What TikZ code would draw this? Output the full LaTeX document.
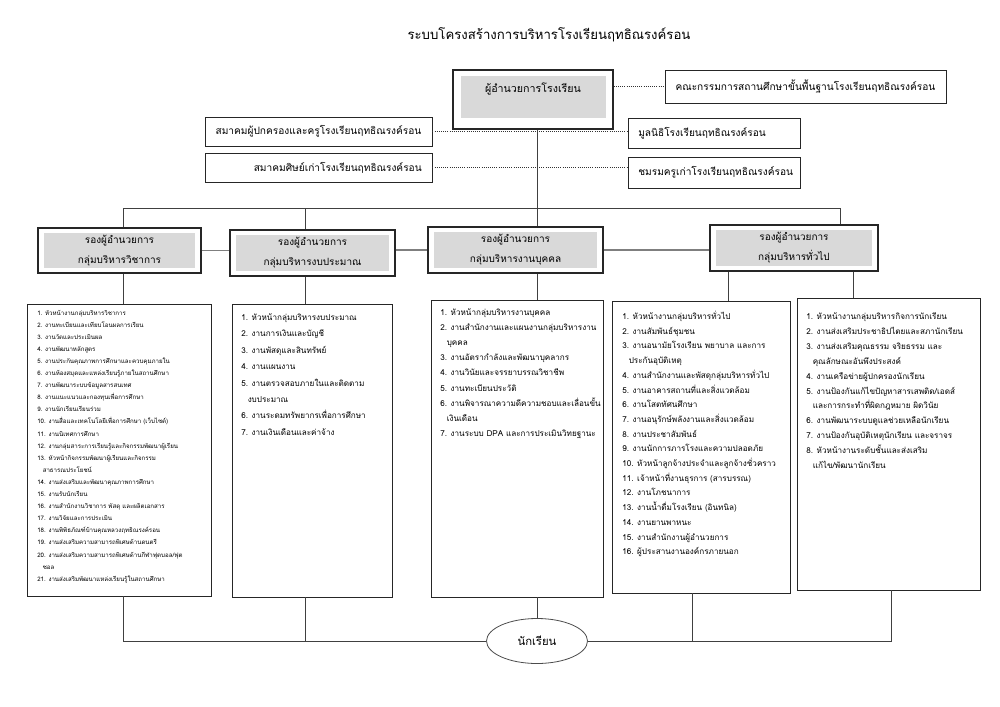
\documentclass[tikz,border=0pt]{standalone}
\usepackage{fontspec}
\newfontfamily\thai[Script=Thai]{Loma}
\usetikzlibrary{shapes.geometric}
\definecolor{boxgray}{HTML}{D9D9D9}
\definecolor{linegray}{HTML}{7F7F7F}
\tikzset{
  box/.style={rectangle, draw=black!85, line width=0.7pt, fill=white, inner sep=0pt},
  vpbox/.style={box, line width=1.1pt},
  grayin/.style={rectangle, fill=boxgray, draw=none, inner sep=0pt},
  toptxt/.style={inner sep=0pt, font={\thai\fontsize{7.6}{9}\selectfont}},
  vptxt/.style={align=center, font={\thai\fontsize{7.5}{15}\selectfont}},
  litemA/.style={anchor=base west, inner sep=0pt, font={\thai\fontsize{4.6}{6}\selectfont}},
  litem/.style={anchor=base west, inner sep=0pt, font={\thai\fontsize{6.1}{8}\selectfont}},
  link/.style={draw=black!75, line width=0.5pt},
  vplink/.style={draw=linegray, line width=1.3pt},
  dotlink/.style={draw=black!80, densely dotted, line width=0.6pt},
}
\begin{document}
\begin{tikzpicture}[x=0.75pt, y=-0.75pt]
\useasboundingbox (0,0) rectangle (1000,707);
\fill[white] (0,0) rectangle (1000,707);

% title
\node[inner sep=0pt, font={\thai\fontsize{9.9}{12}\selectfont}] (title) at (549,35) {ระบบโครงสร้างการบริหารโรงเรียนฤทธิณรงค์รอน};

% director
\node[vpbox, minimum width=120pt, minimum height=44.25pt] (dir) at (533,99.5) {};
\node[grayin, minimum width=108.75pt, minimum height=31.5pt] (dirin) at (533.5,97) {};
\node[inner sep=0pt, font={\thai\fontsize{8}{10}\selectfont}] (dirt) at (533,89) {ผู้อำนวยการโรงเรียน};

% side boxes
\node[box, minimum width=210.75pt, minimum height=24.75pt] (comm) at (805.5,86.5) {};
\node[toptxt] (commt) at (comm.center) {คณะกรรมการสถานศึกษาขั้นพื้นฐานโรงเรียนฤทธิณรงค์รอน};
\node[box, minimum width=170.25pt, minimum height=21.75pt] (par) at (318.5,131.5) {};
\node[toptxt] (part) at (par.center) {สมาคมผู้ปกครองและครูโรงเรียนฤทธิณรงค์รอน};
\node[box, minimum width=129pt, minimum height=22.5pt] (fou) at (714,133) {};
\node[toptxt, anchor=west] (fout) at (638,133) {มูลนิธิโรงเรียนฤทธิณรงค์รอน};
\node[box, minimum width=170.25pt, minimum height=21.75pt] (alu) at (318.5,167.5) {};
\node[toptxt, anchor=east] (alut) at (422,167.5) {สมาคมศิษย์เก่าโรงเรียนฤทธิณรงค์รอน};
\node[box, minimum width=129pt, minimum height=23.25pt] (clu) at (714,172.5) {};
\node[toptxt, anchor=west] (clut) at (638,172.5) {ชมรมครูเก่าโรงเรียนฤทธิณรงค์รอน};

\draw[dotlink] (comm.west -| dir.east) -- (comm.west);
\draw[dotlink] (par.east) -- (par.east -| fou.west);
\draw[dotlink] (alu.east) -- (alu.east -| clu.west);

% vice directors
\node[vpbox, minimum width=122.25pt, minimum height=33.75pt] (vp1) at (119.5,250.5) {};
\node[grayin, vptxt, minimum width=113.25pt, minimum height=26.25pt] (vp1in) at (vp1.center) {รองผู้อำนวยการ\\กลุ่มบริหารวิชาการ};
\node[vpbox, minimum width=123.75pt, minimum height=34.5pt] (vp2) at (312.5,253) {};
\node[grayin, vptxt, minimum width=114.75pt, minimum height=27pt] (vp2in) at (vp2.center) {รองผู้อำนวยการ\\กลุ่มบริหารงบประมาณ};
\node[vpbox, minimum width=131.25pt, minimum height=34.5pt] (vp3) at (515.5,250) {};
\node[grayin, vptxt, minimum width=122.25pt, minimum height=27pt] (vp3in) at (vp3.center) {รองผู้อำนวยการ\\กลุ่มบริหารงานบุคคล};
\node[vpbox, minimum width=126pt, minimum height=34.5pt] (vp4) at (794,248) {};
\node[grayin, vptxt, minimum width=117pt, minimum height=27pt] (vp4in) at (vp4.center) {รองผู้อำนวยการ\\กลุ่มบริหารทั่วไป};

\draw[vplink] (vp1.east) -- (vp1.east -| vp2.west);
\draw[vplink] (vp2.east |- vp3.west) -- (vp3.west);
\draw[vplink] (vp3.east) -- (vp3.east -| vp4.west);

% bus
\coordinate (trunk) at (537,208);
\coordinate (b1) at (123,208);
\coordinate (b2) at (305,208);
\coordinate (b4) at (840,208);
\draw[link] (dir.south -| trunk) -- (trunk);
\draw[link] (b1) -- (b4);
\draw[link] (b1) -- (b1 |- vp1.north);
\draw[link] (b2) -- (b2 |- vp2.north);
\draw[link] (trunk) -- (trunk |- vp3.north);
\draw[link] (b4) -- (b4 |- vp4.north);

% list boxes
\node[box, minimum width=138pt, minimum height=219pt] (l1) at (119,450) {};
\node[box, minimum width=120pt, minimum height=219.75pt] (l2) at (312,450.5) {};
\node[box, minimum width=129pt, minimum height=222.75pt] (l3) at (517,448.5) {};
\node[box, minimum width=133.5pt, minimum height=219pt] (l4) at (701,447) {};
\node[box, minimum width=137.25pt, minimum height=219pt] (l5) at (888.5,444) {};

\coordinate (d4a) at (728,0);
\coordinate (d4b) at (853,0);
\draw[link] (vp1.south -| b1) -- (l1.north -| b1);
\draw[link] (vp2.south -| b2) -- (l2.north -| b2);
\draw[link] (vp3.south -| trunk) -- (l3.north -| trunk);
\draw[link] (vp4.south -| d4a) -- (l4.north -| d4a);
\draw[link] (vp4.south -| d4b) -- (l5.north -| d4b);

\foreach \t [count=\i from 0] in {
 {1. หัวหน้างานกลุ่มบริหารวิชาการ},
 {2. งานทะเบียนและเทียบโอนผลการเรียน},
 {3. งานวัดและประเมินผล},
 {4. งานพัฒนาหลักสูตร},
 {5. งานประกันคุณภาพการศึกษาและควบคุมภายใน},
 {6. งานห้องสมุดและแหล่งเรียนรู้ภายในสถานศึกษา},
 {7. งานพัฒนาระบบข้อมูลสารสนเทศ},
 {8. งานแนะแนวและกองทุนเพื่อการศึกษา},
 {9. งานนักเรียนเรียนร่วม},
 {10. งานสื่อและเทคโนโลยีเพื่อการศึกษา (เว็บไซต์)},
 {11. งานนิเทศการศึกษา},
 {12. งานกลุ่มสาระการเรียนรู้และกิจกรรมพัฒนาผู้เรียน},
 {13. หัวหน้ากิจกรรมพัฒนาผู้เรียนและกิจกรรม},
 {\hspace*{0.9em}สาธารณประโยชน์},
 {14. งานส่งเสริมและพัฒนาคุณภาพการศึกษา},
 {15. งานรับนักเรียน},
 {16. งานสำนักงานวิชาการ พัสดุ และผลิตเอกสาร},
 {17. งานวิจัยและการประเมิน},
 {18. งานพิพิธภัณฑ์บ้านคุณหลวงฤทธิณรงค์รอน},
 {19. งานส่งเสริมความสามารถพิเศษด้านดนตรี},
 {20. งานส่งเสริมความสามารถพิเศษด้านกีฬาฟุตบอล/ฟุต},
 {\hspace*{0.9em}ซอล},
 {21. งานส่งเสริมพัฒนาแหล่งเรียนรู้ในสถานศึกษา}}
 \node[litemA] (la\i) at (37,{315+12.1*\i}) {\t};

\foreach \t [count=\i from 0] in {
 {1. หัวหน้ากลุ่มบริหารงบประมาณ},
 {2. งานการเงินและบัญชี},
 {3. งานพัสดุและสินทรัพย์},
 {4. งานแผนงาน},
 {5. งานตรวจสอบภายในและติดตาม},
 {\hspace*{0.8em}งบประมาณ},
 {6. งานระดมทรัพยากรเพื่อการศึกษา},
 {7. งานเงินเดือนและค่าจ้าง}}
 \node[litem] (lb\i) at (241,{320.5+16.4*\i}) {\t};

\foreach \t [count=\i from 0] in {
 {1. หัวหน้ากลุ่มบริหารงานบุคคล},
 {2. งานสำนักงานและแผนงานกลุ่มบริหารงาน},
 {\hspace*{0.8em}บุคคล},
 {3. งานอัตรากำลังและพัฒนาบุคลากร},
 {4. งานวินัยและจรรยาบรรณวิชาชีพ},
 {5. งานทะเบียนประวัติ},
 {6. งานพิจารณาความดีความชอบและเลื่อนขั้น},
 {\hspace*{0.8em}เงินเดือน},
 {7. งานระบบ DPA และการประเมินวิทยฐานะ}}
 \node[litem] (lc\i) at (440,{315.5+15.1*\i}) {\t};

\foreach \t [count=\i from 0] in {
 {1. หัวหน้างานกลุ่มบริหารทั่วไป},
 {2. งานสัมพันธ์ชุมชน},
 {3. งานอนามัยโรงเรียน พยาบาล และการ},
 {\hspace*{0.8em}ประกันอุบัติเหตุ},
 {4. งานสำนักงานและพัสดุกลุ่มบริหารทั่วไป},
 {5. งานอาคารสถานที่และสิ่งแวดล้อม},
 {6. งานโสตทัศนศึกษา},
 {7. งานอนุรักษ์พลังงานและสิ่งแวดล้อม},
 {8. งานประชาสัมพันธ์},
 {9. งานนักการภารโรงและความปลอดภัย},
 {10. หัวหน้าลูกจ้างประจำและลูกจ้างชั่วคราว},
 {11. เจ้าหน้าที่งานธุรการ (สารบรรณ)},
 {12. งานโภชนาการ},
 {13. งานน้ำดื่มโรงเรียน (อินทนิล)},
 {14. งานยานพาหนะ},
 {15. งานสำนักงานผู้อำนวยการ},
 {16. ผู้ประสานงานองค์กรภายนอก}}
 \node[litem] (ld\i) at (622,{319.5+14.7*\i}) {\t};

\foreach \t [count=\i from 0] in {
 {1. หัวหน้างานกลุ่มบริหารกิจการนักเรียน},
 {2. งานส่งเสริมประชาธิปไตยและสภานักเรียน},
 {3. งานส่งเสริมคุณธรรม จริยธรรม และ},
 {\hspace*{0.8em}คุณลักษณะอันพึงประสงค์},
 {4. งานเครือข่ายผู้ปกครองนักเรียน},
 {5. งานป้องกันแก้ไขปัญหาสารเสพติด/เอดส์},
 {\hspace*{0.8em}และการกระทำที่ผิดกฎหมาย ผิดวินัย},
 {6. งานพัฒนาระบบดูแลช่วยเหลือนักเรียน},
 {7. งานป้องกันอุบัติเหตุนักเรียน และจราจร},
 {8. หัวหน้างานระดับชั้นและส่งเสริม},
 {\hspace*{0.8em}แก้ไข/พัฒนานักเรียน}}
 \node[litem] (le\i) at (806,{319.5+14.9*\i}) {\t};

% students
\node[ellipse, draw=black!70, line width=0.6pt, fill=white, inner sep=0pt,
      minimum width=75.75pt, minimum height=33.75pt,
      font={\thai\fontsize{8.5}{10}\selectfont}] (stu) at (537,641) {นักเรียน};
\coordinate (c1) at (123,641);
\coordinate (c2) at (305,641);
\coordinate (c4) at (692,641);
\coordinate (c5) at (891,641);
\draw[link] (l1.south -| c1) -- (c1) -- (stu.west);
\draw[link] (l2.south -| c2) -- (c2);
\draw[link] (l3.south -| stu.north) -- (stu.north);
\draw[link] (stu.east) -- (c5) -- (l5.south -| c5);
\draw[link] (c4) -- (l4.south -| c4);
\end{tikzpicture}
\end{document}
